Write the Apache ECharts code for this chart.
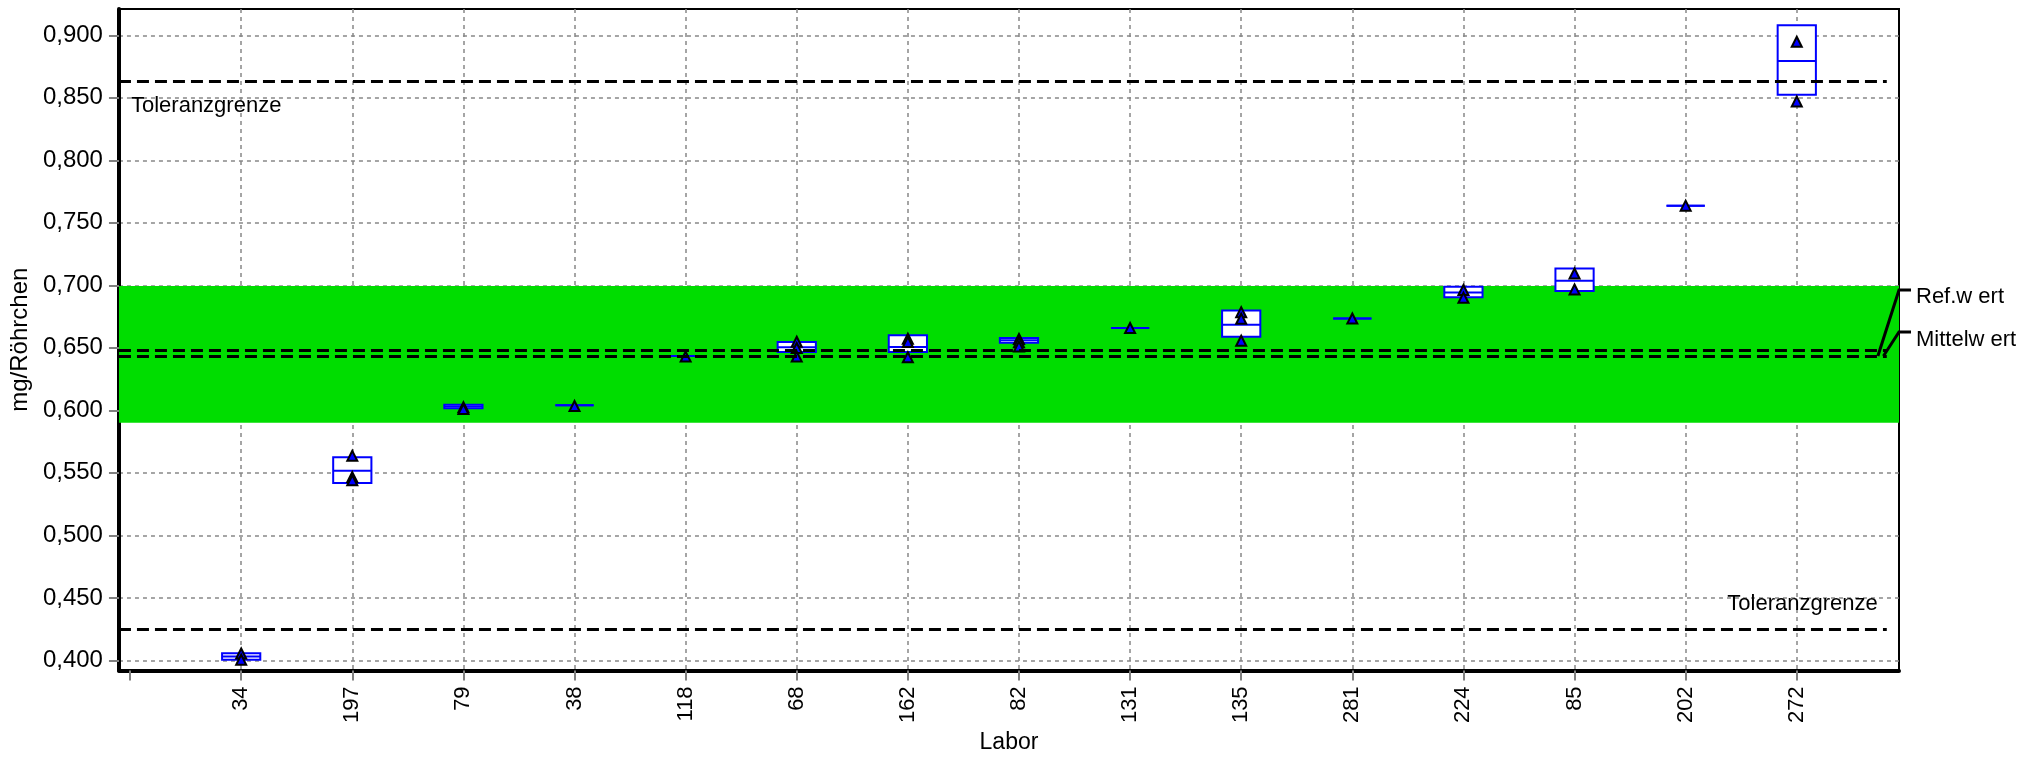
<!DOCTYPE html>
<html>
<head>
<meta charset="utf-8">
<script src="https://cdn.jsdelivr.net/npm/echarts@6/dist/echarts.min.js"></script>
<style>
  html, body { margin: 0; padding: 0; background: #fff; }
  #main { width: 2033px; height: 759px; }
</style>
</head>
<body>
<div id="main"></div>
<script>
// Labore (x-Achse), Position 0 bleibt leer
var labs = ['34', '197', '79', '38', '118', '68', '162', '82', '131', '135', '281', '224', '85', '202', '272'];
// Kasten unten / oben / Mittellinie je Labor
var boxLow  = [0.4005, 0.5419, 0.6017, 0.6040, 0.6435, 0.6467, 0.6467, 0.6541, 0.6658, 0.6589, 0.6735, 0.6904, 0.6954, 0.7637, 0.8524];
var boxHigh = [0.4058, 0.5625, 0.6044, 0.6040, 0.6435, 0.6546, 0.6600, 0.6578, 0.6658, 0.6798, 0.6735, 0.6989, 0.7134, 0.7637, 0.9080];
var boxMid  = [0.4031, 0.5516, 0.6030, 0.6040, 0.6435, 0.6504, 0.6507, 0.6560, 0.6658, 0.6684, 0.6735, 0.6943, 0.7036, 0.7637, 0.8794];
// Einzelwerte (Dreiecke)
var points = [
  [0.4055, 0.4005],
  [0.5636, 0.5466, 0.5440],
  [0.6025, 0.6010],
  [0.6035],
  [0.6430],
  [0.6549, 0.6499, 0.6430],
  [0.6573, 0.6547, 0.6425],
  [0.6570, 0.6545, 0.6510],
  [0.6658],
  [0.6785, 0.6732, 0.6557],
  [0.6735],
  [0.6962, 0.6901],
  [0.7095, 0.6967],
  [0.7637],
  [0.8948, 0.8471]
];
var yTicks = [0.40, 0.45, 0.50, 0.55, 0.60, 0.65, 0.70, 0.75, 0.80, 0.85, 0.90];
var tolUpper = 0.863;
var tolLower = 0.425;
var refWert = 0.6435;
var mittelWert = 0.648;
var bandLow = 0.590;
var bandHigh = 0.6995;

var X_MIN = -0.1, X_MAX = 15.92, LINE_END = 15.81;
var BOX_HALF = 0.172;
var FONT = 'Liberation Sans, Arial, sans-serif';

var xTickVals = [0];
var xLabelVals = [];
for (var i = 0; i < labs.length; i++) {
  xTickVals.push(i + 1);
  xLabelVals.push(i + 1);
}

var boxData = labs.map(function (l, i) {
  return [i + 1, boxLow[i], boxHigh[i], boxMid[i]];
});
var pointData = [];
points.forEach(function (arr, i) {
  arr.forEach(function (v) { pointData.push([i + 1, v]); });
});

function hLine(v) {
  return [{ coord: [X_MIN, v] }, { coord: [LINE_END, v] }];
}

// Kasten + Mittellinie
function renderBox(params, api) {
  var k = api.value(0);
  var a = api.coord([k - BOX_HALF, api.value(2)]);
  var b = api.coord([k + BOX_HALF, api.value(1)]);
  var m1 = api.coord([k - BOX_HALF, api.value(3)]);
  var m2 = api.coord([k + BOX_HALF, api.value(3)]);
  return {
    type: 'group',
    children: [{
      type: 'rect',
      shape: { x: a[0], y: a[1], width: b[0] - a[0], height: b[1] - a[1] },
      style: { fill: '#fff', stroke: '#0000ff', lineWidth: 2 }
    }, {
      type: 'line',
      shape: { x1: m1[0], y1: m1[1], x2: m2[0], y2: m2[1] },
      style: { stroke: '#0000ff', lineWidth: 2 }
    }]
  };
}

var myChart = echarts.init(document.getElementById('main'));
var dashStyle = { color: '#000', width: 3, type: [12, 6] };

var option = {
  animation: false,
  textStyle: { fontFamily: FONT },
  grid: {
    left: 117, right: 134, top: 9, bottom: 84,
    show: true, borderColor: '#000', borderWidth: 2
  },
  xAxis: [{
    type: 'value',
    min: X_MIN, max: X_MAX,
    name: 'Labor',
    nameLocation: 'middle',
    nameGap: 56,
    nameTextStyle: { fontSize: 23, color: '#000', fontFamily: FONT },
    axisLine: { onZero: false, lineStyle: { color: '#000', width: 4 } },
    axisTick: { customValues: xTickVals, length: 10, lineStyle: { color: '#808080', width: 2 } },
    axisLabel: {
      customValues: xLabelVals,
      rotate: 90, margin: 16, fontSize: 22, color: '#000', fontFamily: FONT,
      formatter: function (v) { return labs[Math.round(v) - 1] || ''; }
    },
    splitLine: { show: false }
  }, {
    // nur die senkrechten Gitterlinien
    type: 'value',
    min: X_MIN, max: X_MAX,
    position: 'bottom',
    axisLine: { show: false, onZero: false },
    axisTick: { show: false, customValues: xLabelVals },
    axisLabel: { show: false, customValues: xLabelVals },
    splitLine: { show: true, lineStyle: { color: '#888', width: 1.5, type: [4, 4] } }
  }],
  yAxis: {
    type: 'value',
    min: 0.392, max: 0.921,
    name: 'mg/Röhrchen',
    nameLocation: 'middle',
    nameGap: 80,
    nameTextStyle: { fontSize: 24, color: '#000', fontFamily: FONT },
    axisLine: { show: true, onZero: false, lineStyle: { color: '#000', width: 4 } },
    axisTick: { show: true, customValues: yTicks, length: 10, lineStyle: { color: '#808080', width: 2 } },
    axisLabel: {
      customValues: yTicks,
      margin: 16, fontSize: 24, color: '#000', fontFamily: FONT,
      formatter: function (v) { return v.toFixed(3).replace('.', ','); }
    },
    splitLine: { show: true, lineStyle: { color: '#888', width: 1.5, type: [4, 4] } }
  },
  series: [{
    // gruener Bereich
    type: 'line',
    data: [],
    z: 1,
    markArea: {
      silent: true,
      itemStyle: { color: '#00dd00', opacity: 1 },
      data: [[{ yAxis: bandHigh, xAxis: X_MIN }, { yAxis: bandLow, xAxis: X_MAX }]]
    }
  }, {
    // Toleranzgrenzen, Ref.wert, Mittelwert
    type: 'line',
    data: [],
    z: 2,
    markLine: {
      silent: true,
      symbol: 'none',
      lineStyle: dashStyle,
      label: { show: false },
      data: [
        [{ coord: [X_MIN, tolUpper], label: { show: true, position: 'insideStartBottom', distance: [12, 13], formatter: 'Toleranzgrenze', fontSize: 22, color: '#000', fontFamily: FONT } }, { coord: [LINE_END, tolUpper] }],
        [{ coord: [X_MIN, tolLower], label: { show: true, position: 'insideEndTop', distance: [9, 14], formatter: 'Toleranzgrenze', fontSize: 22, color: '#000', fontFamily: FONT } }, { coord: [LINE_END, tolLower] }],
        hLine(refWert),
        hLine(mittelWert)
      ]
    }
  }, {
    type: 'custom',
    z: 3,
    renderItem: renderBox,
    encode: { x: 0, y: [1, 2, 3] },
    data: boxData
  }, {
    type: 'scatter',
    z: 4,
    symbol: 'triangle',
    symbolSize: 10,
    itemStyle: { color: '#0000ff', borderColor: '#000', borderWidth: 2, opacity: 1 },
    data: pointData
  }]
};
myChart.setOption(option);

// Beschriftung rechts mit Hinweislinien
var rEnd = myChart.convertToPixel({ gridIndex: 0 }, [15.73, refWert]);
var mEnd = myChart.convertToPixel({ gridIndex: 0 }, [15.78, refWert]);
var edge = myChart.convertToPixel({ gridIndex: 0 }, [X_MAX, bandHigh]);
var calloutStyle = { stroke: '#000', lineWidth: 3, fill: null };
myChart.setOption({
  graphic: [{
    type: 'polyline', z: 100,
    shape: { points: [rEnd, [edge[0], edge[1] + 4], [edge[0] + 12, edge[1] + 4]] },
    style: calloutStyle
  }, {
    type: 'polyline', z: 100,
    shape: { points: [mEnd, [edge[0], edge[1] + 46], [edge[0] + 12, edge[1] + 46]] },
    style: calloutStyle
  }, {
    type: 'text', z: 100,
    x: edge[0] + 17, y: edge[1] + 11,
    style: { text: 'Ref.w ert', fontSize: 22, fontFamily: FONT, fill: '#000', verticalAlign: 'middle' }
  }, {
    type: 'text', z: 100,
    x: edge[0] + 17, y: edge[1] + 54,
    style: { text: 'Mittelw ert', fontSize: 22, fontFamily: FONT, fill: '#000', verticalAlign: 'middle' }
  }]
});
</script>
</body>
</html>
